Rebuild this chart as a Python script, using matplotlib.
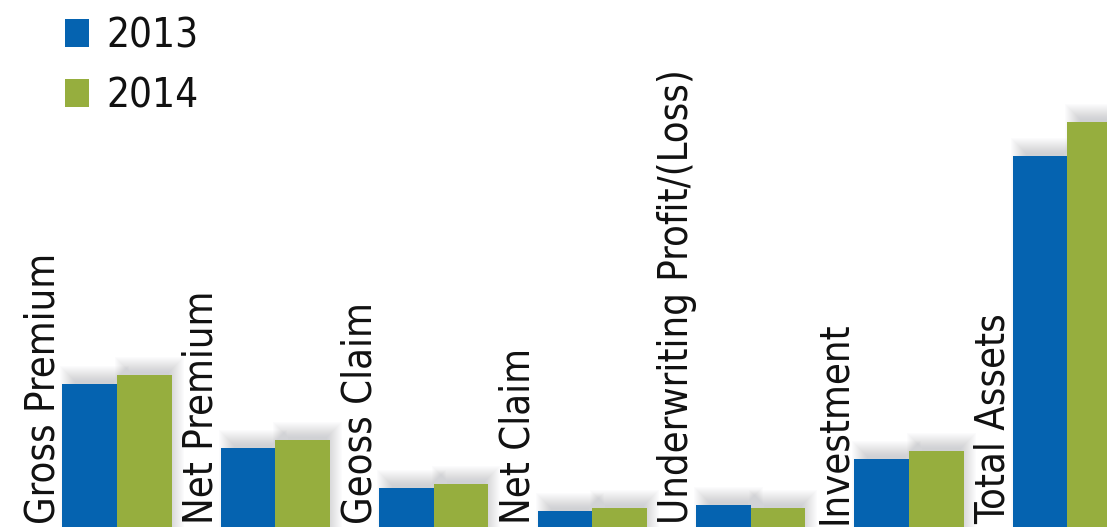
import matplotlib
matplotlib.use('Agg')
import matplotlib.pyplot as plt
from matplotlib import font_manager
from matplotlib.patches import Rectangle
import numpy as np

categories = ['Gross Premium', 'Net Premium', 'Geoss Claim', 'Net Claim',
              'Underwriting Profit/(Loss)', 'Investment', 'Total Assets']
values_2013 = [143, 79, 39, 16, 22, 68, 371]
values_2014 = [152, 87, 43, 19, 19, 76, 405]
years = ['2013', '2014']

blue = '#0563b0'
green = '#96ae3e'


# pick the narrowest sans that is installed
def pick_font():
    tries = [dict(family='Liberation Sans Narrow'),
             dict(family='DejaVu Sans', stretch='condensed'),
             dict(family='Roboto'),
             dict(family='Lato')]
    for t in tries:
        fp = font_manager.FontProperties(**t)
        try:
            path = font_manager.findfont(fp, fallback_to_default=False)
        except Exception:
            continue
        name = path.lower()
        if 'stretch' in t and 'condensed' not in name:
            continue
        if t['family'] == 'Liberation Sans Narrow' and 'narrow' not in name:
            continue
        return t
    return dict(family='DejaVu Sans')


fnt = pick_font()
fam = [fnt['family'], 'DejaVu Sans']
stretch = fnt.get('stretch', 'normal')

W, H = 1107, 527
fig = plt.figure(figsize=(W / 100, H / 100), dpi=100)
ax = fig.add_axes([0, 0, 1, 1])

x = np.arange(len(categories))
w = 0.345
xmin, xmax = -0.739, 6.25
ax.set_xlim(xmin, xmax)
ax.set_ylim(0, H)
px = (xmax - xmin) / W  # one pixel in x data units


# blurred drop shadow behind each bar (offset up and slightly right)
def shadow(x0, width, height, dx=5, dy=11, blur=16, n=16):
    for k in range(n):
        grow = blur * (k / n - 0.5)
        ax.add_patch(Rectangle((x0 + dx * px - grow * px, 0),
                               width + 2 * grow * px, height + dy + grow,
                               facecolor='#8e9096', edgecolor='none',
                               alpha=0.028, zorder=1))


for xi, v13, v14 in zip(x, values_2013, values_2014):
    shadow(xi - w, w, v13)
    shadow(xi, w, v14)

b1 = ax.bar(x - w / 2, values_2013, w, color=blue, label=years[0], zorder=3)
b2 = ax.bar(x + w / 2, values_2014, w, color=green, label=years[1], zorder=3)

# size the labels so "Underwriting Profit/(Loss)" is ~454 px long
renderer = fig.canvas.get_renderer()
probe = fig.text(0, 0, categories[4], fontsize=34, family=fam,
                 fontstretch=stretch)
long_px = probe.get_window_extent(renderer).width
probe.remove()
lab_size = min(34, 34 * 454 / long_px)

for xi, name in zip(x, categories):
    ax.text(xi - w - 8 * px, 3, name, rotation=90, rotation_mode='anchor',
            ha='left', va='baseline', fontsize=lab_size, family=fam,
            fontstretch=stretch, color='#111111', zorder=4)

leg = ax.legend(handles=[b1, b2], loc='upper left',
                bbox_to_anchor=(65 / W, 1 - 16 / H), frameon=False,
                prop={'family': fam, 'size': 29, 'stretch': stretch},
                handlelength=0.6, handleheight=0.72, handletextpad=0.42,
                borderpad=0, borderaxespad=0, labelspacing=0.5)
for t in leg.get_texts():
    t.set_color('#111111')

ax.axis('off')
fig.savefig('out.png', dpi=100)
